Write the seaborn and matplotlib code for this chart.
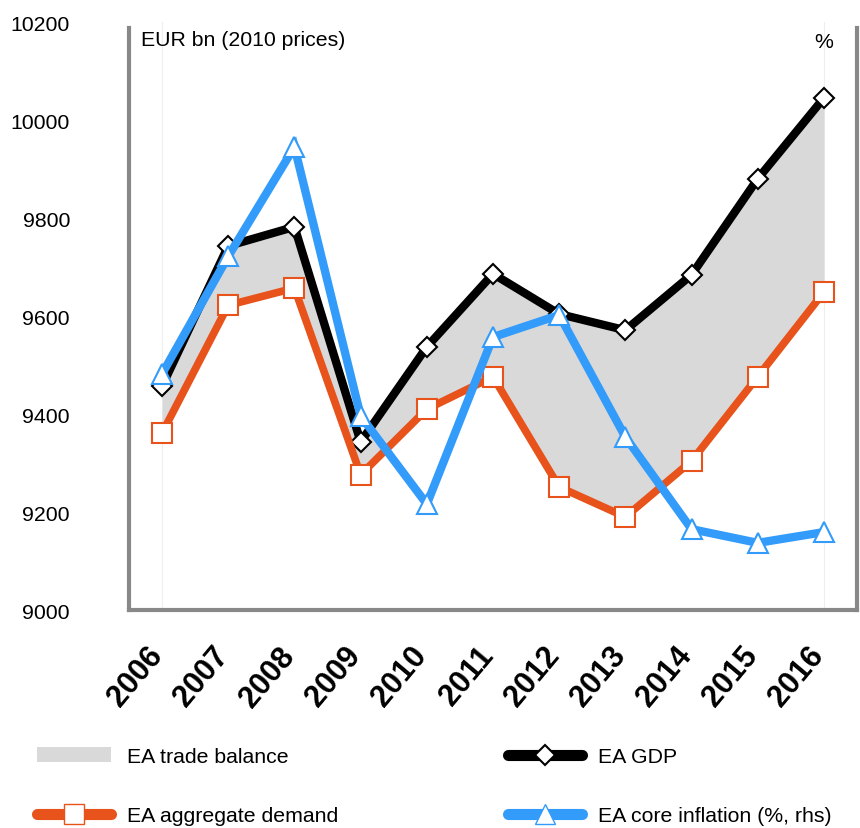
import matplotlib
matplotlib.use("Agg")
import matplotlib.pyplot as plt
import matplotlib.transforms as mtransforms
import seaborn as sns
import numpy as np
from matplotlib.patches import Patch
from matplotlib.lines import Line2D

years = [2006, 2007, 2008, 2009, 2010, 2011, 2012, 2013, 2014, 2015, 2016]
gdp = [9457, 9743, 9782, 9343, 9537, 9686, 9604, 9571, 9684, 9880, 10045]
demand = [9361, 9622, 9657, 9276, 9410, 9476, 9251, 9190, 9304, 9476, 9649]
# core inflation (rhs, no rhs ticks shown) expressed on the lhs scale
inflation = [9482, 9722, 9945, 9396, 9216, 9557, 9602, 9353, 9165, 9137, 9159]
yticks = [9000, 9200, 9400, 9600, 9800, 10000, 10200]

sns.set_theme(style="white")
plt.rcParams['font.family'] = ['Liberation Sans', 'DejaVu Sans']
plt.rcParams['text.color'] = 'black'
plt.rcParams['xtick.color'] = 'black'
plt.rcParams['ytick.color'] = 'black'
plt.rcParams['xtick.labelcolor'] = 'black'
plt.rcParams['ytick.labelcolor'] = 'black'

BLACK = '#000000'
ORANGE = '#E8521B'
BLUE = '#339BFA'
GRAY = '#D9D9D9'
FS = 15.3

fig = plt.figure(figsize=(8.6, 8.29), dpi=100)
ax = fig.add_axes([129/860, 1 - 611/829, (857-129)/860, (611-23)/829])

ax.fill_between(years, demand, gdp, color=GRAY, linewidth=0, zorder=1)
for xv in (years[0], years[-1]):
    ax.axvline(xv, color='#EEEEEE', lw=0.8, zorder=0.5)

sns.lineplot(x=years, y=gdp, ax=ax, color=BLACK, lw=6, marker='D', markersize=10,
             markerfacecolor='white', markeredgecolor=BLACK, markeredgewidth=1.5,
             solid_capstyle='round', solid_joinstyle='miter', zorder=3)
sns.lineplot(x=years, y=demand, ax=ax, color=ORANGE, lw=5.5, marker='s', markersize=14,
             markerfacecolor='white', markeredgecolor=ORANGE, markeredgewidth=1.5,
             solid_joinstyle='miter', zorder=4)
sns.lineplot(x=years, y=inflation, ax=ax, color=BLUE, lw=6, marker='^', markersize=15,
             markerfacecolor='white', markeredgecolor=BLUE, markeredgewidth=1.5,
             solid_joinstyle='miter', zorder=5)

ax.set_xlim(2005.5, 2016.5)
ax.set_ylim(9000, 10200)
ax.set_yticks(yticks)
ax.set_yticklabels([str(v) for v in yticks], fontsize=FS, color='black')
ax.set_xticks(years)
ax.set_xticklabels([str(y) for y in years], fontsize=22, fontweight='bold', color='black',
                   rotation=50, ha='right', va='center', rotation_mode='anchor')
ax.tick_params(axis='y', length=0, pad=42.5)
ax.tick_params(axis='x', length=0, pad=29)
offset = mtransforms.ScaledTranslation(-5/100, 0, fig.dpi_scale_trans)
for lab in ax.get_xticklabels():
    lab.set_transform(lab.get_transform() + offset)
ax.grid(False)
ax.spines['top'].set_visible(False)
for s in ['left', 'right', 'bottom']:
    ax.spines[s].set_color('#888888')
    ax.spines[s].set_linewidth(3)
ax.spines['left'].set_bounds(9000, 10188)
ax.spines['right'].set_bounds(9000, 10188)
ax.set_xlabel('')
ax.set_ylabel('')

fig.text(141/860, 1 - 41/829, 'EUR bn (2010 prices)', fontsize=FS, va='center', ha='left', color='black')
fig.text(824/860, 1 - 43/829, '%', fontsize=FS, va='center', ha='center', color='black')

handles = [
    Patch(facecolor=GRAY, edgecolor='none'),
    Line2D([], [], color=ORANGE, lw=8, marker='s', markersize=14, markerfacecolor='white',
           markeredgecolor=ORANGE, solid_capstyle='round'),
    Line2D([], [], color=BLACK, lw=8, marker='D', markersize=10, markerfacecolor='white',
           markeredgecolor=BLACK, markeredgewidth=1.5, solid_capstyle='round'),
    Line2D([], [], color=BLUE, lw=8, marker='^', markersize=14, markerfacecolor='white',
           markeredgecolor=BLUE, solid_capstyle='round'),
]
labels = ['EA trade balance', 'EA aggregate demand', 'EA GDP', 'EA core inflation (%, rhs)']
leg = fig.legend(handles, labels, loc='upper left', bbox_to_anchor=(37/860, 1 - 748/829),
                 ncol=2, frameon=False, fontsize=FS, handlelength=3.5, handletextpad=0.75,
                 columnspacing=7.95, labelspacing=1.9, numpoints=1, borderaxespad=0, borderpad=0)
for t in leg.get_texts():
    t.set_color('black')

fig.savefig('out.png', dpi=100)
